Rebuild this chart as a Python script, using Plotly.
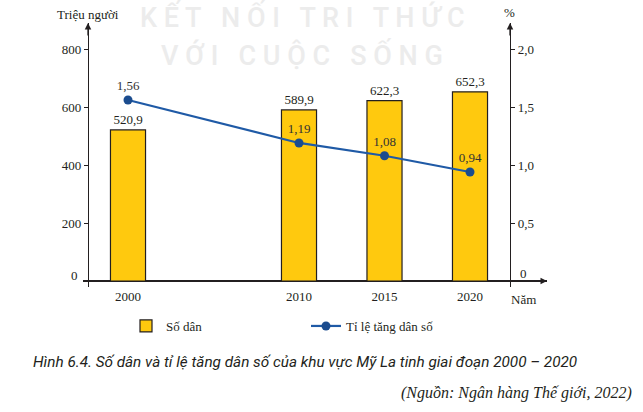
import plotly.graph_objects as go

# ---------------- data ----------------
years = [2000, 2010, 2015, 2020]
population = [520.9, 589.9, 622.3, 652.3]          # Triệu người
growth_rate = [1.56, 1.19, 1.08, 0.94]              # %
left_ticks = [200, 400, 600, 800]
right_ticks = [0.5, 1.0, 1.5, 2.0]
year_labels = ["2000", "2010", "2015", "2020"]

W, H = 643, 412
SERIF = "Liberation Serif, Times New Roman, serif"
SANS = "Roboto, Open Sans, sans-serif"
INK = "#231f20"

def vn(v, nd=1):
    return f"{v:.{nd}f}".replace(".", ",")

def px(x):
    return x / W

def py(y):
    return 1 - y / H

# pixel geometry of the plot frame
x_left_px, x_right_px = 83, 547
y_top_px, y_bot_px, y_zero_px = 23, 287, 281
px_per_year = 17.1
x0_year = 2000 + (x_left_px - 128) / px_per_year
x1_year = 2000 + (x_right_px - 128) / px_per_year
px_per_unit = (y_zero_px - 49) / 800.0
ymin = -(y_bot_px - y_zero_px) / px_per_unit
ymax = (y_zero_px - y_top_px) / px_per_unit

fig = go.Figure()

fig.add_trace(go.Bar(
    x=years, y=population, name="Số dân",
    width=2.05,
    marker=dict(color="#FFC90E", line=dict(color=INK, width=1.2)),
    text=[vn(v) for v in population], textposition="outside",
    textfont=dict(family=SERIF, size=13, color=INK),
    cliponaxis=False,
))

fig.add_trace(go.Scatter(
    x=years, y=growth_rate, name="Tỉ lệ tăng dân số", yaxis="y2",
    mode="lines+markers+text",
    line=dict(color="#1F5AA6", width=2.2),
    marker=dict(color="#1B4C8E", size=9),
    text=[vn(v, 2) for v in growth_rate], textposition="top center",
    textfont=dict(family=SERIF, size=13, color="#333333"),
    cliponaxis=False,
))

fig.update_layout(
    width=W, height=H, autosize=False,
    margin=dict(l=0, r=0, t=0, b=0),
    paper_bgcolor="white", plot_bgcolor="white",
    showlegend=True,
    legend=dict(orientation="h", x=px(126), y=py(311), xanchor="left", yanchor="top",
                font=dict(family=SERIF, size=13, color=INK),
                entrywidth=135, bgcolor="rgba(0,0,0,0)", traceorder="normal"),
    xaxis=dict(domain=[px(x_left_px), px(x_right_px)], range=[x0_year, x1_year],
               tickmode="array", tickvals=years, ticktext=year_labels,
               showgrid=False, showline=False, zeroline=False, ticks="",
               tickfont=dict(family=SERIF, size=13, color=INK), anchor="y"),
    yaxis=dict(domain=[1 - y_bot_px / H, 1 - y_top_px / H], range=[ymin, ymax],
               anchor="free", position=px(88),
               tickmode="array", tickvals=left_ticks, ticktext=[str(t) for t in left_ticks],
               showgrid=False, showline=True, linecolor=INK, linewidth=1.3,
               ticks="outside", ticklen=4, tickcolor=INK, tickwidth=1.2,
               zeroline=True, zerolinecolor=INK, zerolinewidth=1.6,
               tickfont=dict(family=SERIF, size=13, color=INK)),
    yaxis2=dict(domain=[1 - y_bot_px / H, 1 - y_top_px / H],
                range=[ymin / 400, ymax / 400], overlaying="y", side="right",
                anchor="free", position=px(510),
                tickmode="array", tickvals=right_ticks, ticktext=[vn(t) for t in right_ticks],
                showgrid=False, showline=True, linecolor=INK, linewidth=1.3,
                ticks="outside", ticklen=4, tickcolor=INK, tickwidth=1.2,
                zeroline=False,
                tickfont=dict(family=SERIF, size=13, color=INK)),
)

ann = []
# watermark
ann.append(dict(x=px(302), y=py(17), text="K Ế T   N Ố I   T R I   T H Ứ C",
                font=dict(family=SANS, size=27, color="#ececec", weight=500)))
ann.append(dict(x=px(302), y=py(55), text="V Ớ I   C U Ộ C   S Ố N G",
                font=dict(family=SANS, size=27, color="#ececec", weight=500)))
# axis titles
ann.append(dict(x=px(88), y=py(15), text="Triệu người", font=dict(family=SERIF, size=13, color=INK)))
ann.append(dict(x=px(509), y=py(13), text="%", font=dict(family=SERIF, size=13, color=INK)))
ann.append(dict(x=px(523), y=py(299), text="Năm", font=dict(family=SERIF, size=13, color=INK)))
ann.append(dict(x=px(74), y=py(275), text="0", font=dict(family=SERIF, size=13, color=INK)))
ann.append(dict(x=px(523), y=py(273), text="0", font=dict(family=SERIF, size=13, color=INK)))
# caption and source
ann.append(dict(x=px(31), y=py(362), xanchor="left",
                text="<i>Hình 6.4. Số dân và tỉ lệ tăng dân số của khu vực Mỹ La tinh giai đoạn 2000 – 2020</i>",
                font=dict(family=SANS, size=15.3, color=INK)))
ann.append(dict(x=px(634), y=py(393), xanchor="right",
                text="<i>(Nguồn: Ngân hàng Thế giới, 2022)</i>",
                font=dict(family=SERIF, size=16, color=INK)))
for a in ann:
    a.setdefault("xanchor", "center")
    a.update(xref="paper", yref="paper", yanchor="middle", showarrow=False)

# arrowheads of the axes
arrows = [
    dict(x=px(88), y=py(y_top_px), ax=0, ay=14),
    dict(x=px(510), y=py(y_top_px), ax=0, ay=14),
    dict(x=px(x_right_px), y=py(y_zero_px), ax=-14, ay=0),
]
for a in arrows:
    a.update(xref="paper", yref="paper", text="", showarrow=True, arrowhead=2,
             arrowsize=1, arrowwidth=1.3, arrowcolor=INK, standoff=0)
fig.update_layout(annotations=ann + arrows)

fig.write_html("out.html")
